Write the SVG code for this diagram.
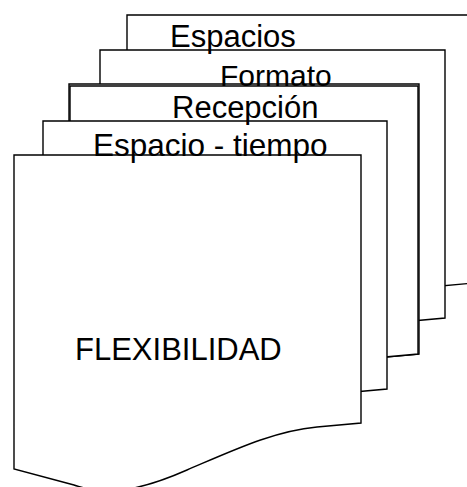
<svg xmlns="http://www.w3.org/2000/svg" width="467" height="487" viewBox="0 0 467 487">
<style>
.doc{fill:#fff;stroke:#000;stroke-width:1.4;stroke-linejoin:miter}
.lbl{font-family:"Liberation Sans",Arial,sans-serif;font-size:31px;fill:#000}
</style>
<rect width="467" height="487" fill="#fff"/>
<g id="doc-espacios">
<path class="doc" transform="translate(127,15)" d="M0,0 H347 V268 L303,272 C260,276 220,295 173,315 C130,334 95,342 60,330 L0,314 Z"/>
</g>
<g id="doc-formato">
<path class="doc" transform="translate(100,50)" d="M0,0 H345 V268 L301,272 C258,276 218,295 173,315 C130,334 95,342 60,330 L0,314 Z"/>
</g>
<g id="doc-recepcion">
<path class="doc" transform="translate(69,84)" d="M0,0 H350 V270 L306,274 C263,278 223,297 174,317 C131,336 96,344 61,332 L0,316 Z"/>
<path class="doc" transform="translate(70,86)" d="M0,0 H348 V268 L304,272 C261,276 221,295 173,315 C130,334 95,342 60,330 L0,314 Z"/>
</g>
<g id="doc-espacio-tiempo">
<path class="doc" transform="translate(43,121)" d="M0,0 H344 V268 L300,272 C257,276 217,295 173,315 C130,334 95,342 60,330 L0,314 Z"/>
</g>
<g id="doc-flexibilidad">
<path class="doc" transform="translate(14,155)" d="M0,0 H347 V268 L303,272 C260,276 220,295 173,315 C130,334 95,342 60,330 L0,314 Z"/>
</g>
<g id="labels">
<text id="label-espacios" class="lbl" x="170" y="47">Espacios</text>
<text id="label-formato" class="lbl" x="220" y="86" style="font-size:30px">Formato</text>
<text id="label-recepcion" class="lbl" x="172" y="118">Recepción</text>
<text id="label-espacio-tiempo" class="lbl" x="93" y="156" style="font-size:31.5px">Espacio - tiempo</text>
<text id="label-flexibilidad" class="lbl" x="75" y="360" style="font-size:31px">FLEXIBILIDAD</text>
</g>
<g id="connectors"></g>
</svg>
